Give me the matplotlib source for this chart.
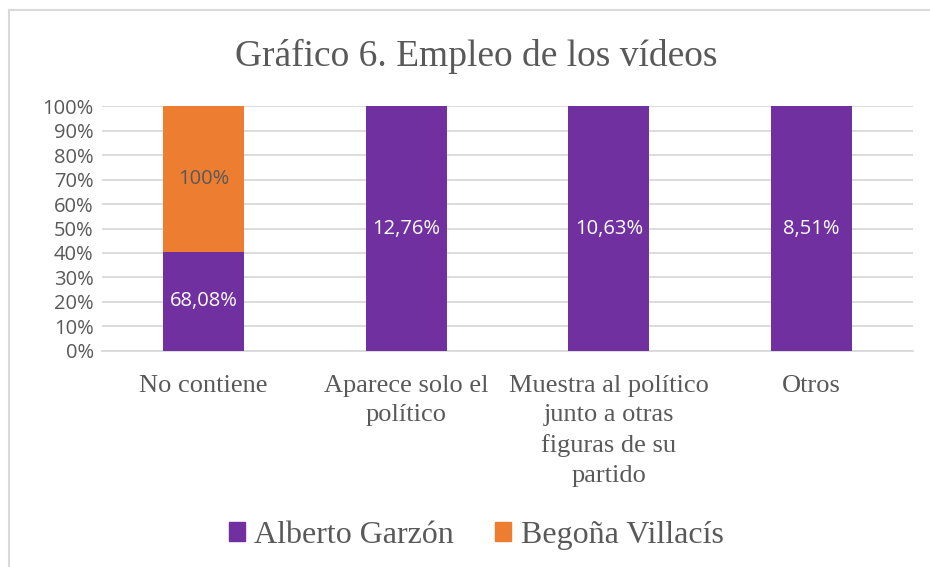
import numpy as np
import matplotlib.pyplot as plt
from matplotlib.lines import Line2D

categories = ["No contiene", "Aparece solo el\npolítico",
              "Muestra al político\njunto a otras\nfiguras de su\npartido", "Otros"]
garzon = [68.08, 12.76, 10.63, 8.51]
villacis = [100, 0, 0, 0]
garzon_labels = ["68,08%", "12,76%", "10,63%", "8,51%"]
villacis_labels = ["100%", "", "", ""]
series_names = ["Alberto Garzón", "Begoña Villacís"]

purple = "#7030A0"
orange = "#ED7D31"
grey = "#595959"
serif = "Liberation Serif"
sans = "Open Sans"

g = np.array(garzon, dtype=float)
v = np.array(villacis, dtype=float)
tot = g + v
g_pct = g / tot * 100
v_pct = v / tot * 100

fig = plt.figure(figsize=(9.3, 5.67), dpi=100)
ax = fig.add_axes([0.1097, 0.381, 0.872, 0.432])

x = np.arange(len(categories))
ax.bar(x, g_pct, width=0.40, color=purple, zorder=3)
ax.bar(x, v_pct, width=0.40, bottom=g_pct, color=orange, zorder=3)

for i in range(len(categories)):
    if garzon_labels[i]:
        ax.text(x[i], g_pct[i] / 2, garzon_labels[i], ha="center", va="center",
                color="white", fontsize=14.5, family=sans, zorder=4)
    if villacis_labels[i] and v_pct[i] > 0:
        ax.text(x[i], g_pct[i] + v_pct[i] / 2, villacis_labels[i], ha="center",
                va="center", color=grey, fontsize=14.5, family=sans, zorder=4)

ax.set_xlim(-0.5, len(categories) - 0.5)
ax.set_ylim(0, 100)
ax.set_yticks(np.arange(0, 101, 10))
ax.set_yticklabels([f"{t}%" for t in range(0, 101, 10)], family=sans, fontsize=14.5, color=grey)
ax.yaxis.grid(True, color="#D9D9D9", linewidth=1.3, zorder=0)
ax.set_xticks(x)
ax.set_xticklabels(categories, family=serif, fontsize=19, color=grey, linespacing=1.45, va="top")
ax.tick_params(axis="both", length=0)
ax.tick_params(axis="x", pad=17)
ax.tick_params(axis="y", pad=6)
for s in ["top", "right", "left"]:
    ax.spines[s].set_visible(False)
ax.spines["bottom"].set_color("#D9D9D9")
ax.spines["bottom"].set_linewidth(1.3)

fig.text(0.512, 0.901, "Gráfico 6. Empleo de los vídeos", ha="center", va="center",
         family=serif, fontsize=27, color=grey)

handles = [plt.Rectangle((0, 0), 1, 1, color=purple), plt.Rectangle((0, 0), 1, 1, color=orange)]
leg = fig.legend(handles, series_names, loc="center", bbox_to_anchor=(0.512, 0.056), ncol=2,
                 frameon=False, prop={"family": serif, "size": 23},
                 handlelength=0.5, handleheight=0.5, handletextpad=0.3, columnspacing=1.3)
for t in leg.get_texts():
    t.set_color(grey)

# chart border (left and top only visible)
fig.add_artist(Line2D([0.0097, 0.0097], [0, 0.982], transform=fig.transFigure, color="#D9D9D9", lw=1.5))
fig.add_artist(Line2D([0.0097, 1.0], [0.982, 0.982], transform=fig.transFigure, color="#D9D9D9", lw=1.5))

fig.savefig("out.png", dpi=100)
